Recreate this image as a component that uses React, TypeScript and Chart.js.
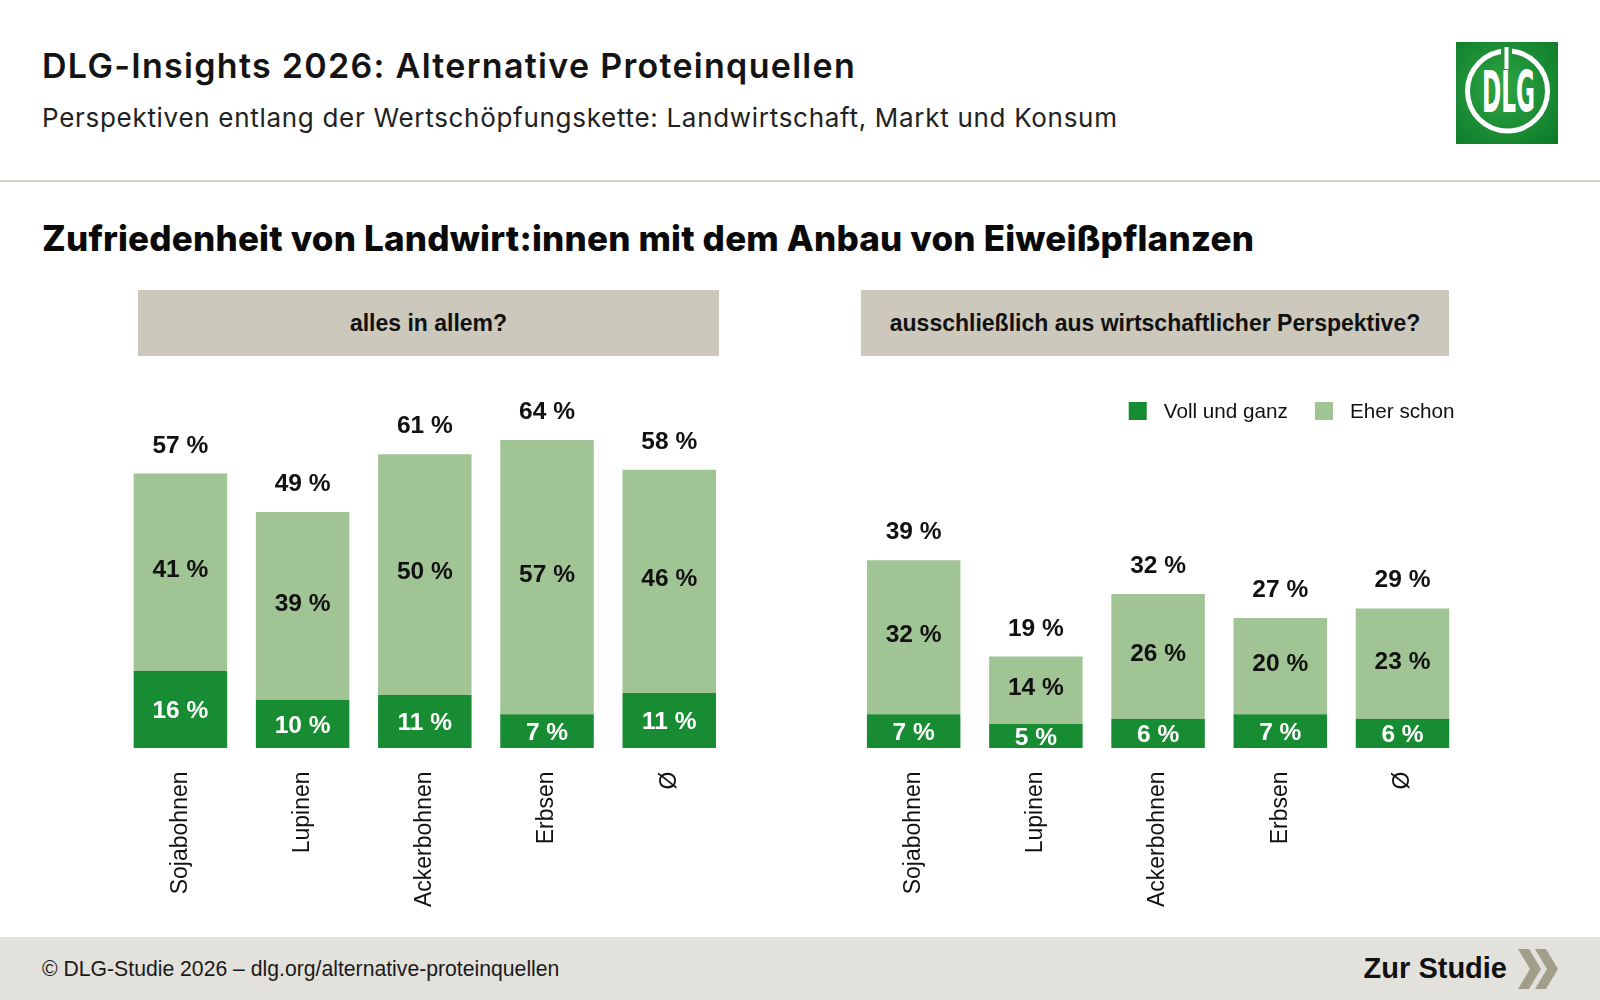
import React, { useEffect, useRef } from "react";
import { Chart, registerables } from "chart.js";

Chart.register(...registerables);

// ---------- data ----------
const crops = ["Sojabohnen", "Lupinen", "Ackerbohnen", "Erbsen", "Ø"];
const seriesNames = ["Voll und ganz", "Eher schon"];
const panelTitles = ["alles in allem?", "ausschließlich aus wirtschaftlicher Perspektive?"];
// panel 1: alles in allem
const allesVoll = [16, 10, 11, 7, 11.4];
const allesEher = [41, 39, 50, 57, 46.4];
// panel 2: wirtschaftliche Perspektive
const wirtVoll = [7, 5, 6, 7, 6];
const wirtEher = [32, 14, 26, 20, 23];

const DARK = "#188c32";
const LIGHT = "#a0c493";
const SANS = "'Liberation Sans', Arial, Helvetica, sans-serif";
const HEAD = "Inter, Lato, sans-serif";

const valuePlugin = {
  id: "valueLabels",
  afterDatasetsDraw(chart: any) {
    const ctx = chart.ctx;
    ctx.save();
    ctx.font = `bold 24.5px ${SANS}`;
    ctx.textAlign = "center";
    ctx.textBaseline = "alphabetic";
    chart.data.datasets.forEach((ds: any, di: number) => {
      const meta = chart.getDatasetMeta(di);
      meta.data.forEach((el: any, i: number) => {
        const v = ds.data[i];
        if (v == null) return;
        const { x, y, base } = el.getProps(["x", "y", "base"], true);
        ctx.fillStyle = di === 0 ? "#ffffff" : "#111111";
        const off = di === 0 ? 8.8 : 4.8;
        ctx.fillText(`${Math.round(v)} %`, x, (y + base) / 2 + off);
      });
    });
    const topMeta = chart.getDatasetMeta(chart.data.datasets.length - 1);
    chart.data.labels.forEach((_: any, i: number) => {
      let total = 0;
      let any = false;
      chart.data.datasets.forEach((ds: any) => {
        if (ds.data[i] != null) {
          total += ds.data[i];
          any = true;
        }
      });
      if (!any) return;
      const el = topMeta.data[i];
      ctx.fillStyle = "#111111";
      ctx.fillText(`${Math.round(total)} %`, el.x, el.y - 21);
    });
    ctx.restore();
  },
};

const legendPlugin = {
  id: "customLegend",
  afterDraw(chart: any) {
    const ctx = chart.ctx;
    ctx.save();
    ctx.font = `20.7px ${SANS}`;
    const box = 18;
    const gap = 17;
    const itemGap = 27;
    const items = chart.data.datasets.map((ds: any) => ({
      label: ds.label,
      color: ds.backgroundColor,
      w: box + gap + ctx.measureText(ds.label).width,
    }));
    const total = items.reduce((s: number, it: any) => s + it.w, 0) + itemGap * (items.length - 1);
    let x = chart.chartArea.right - 9 - total;
    const top = chart.chartArea.top - 9;
    ctx.textBaseline = "middle";
    ctx.textAlign = "left";
    items.forEach((it: any) => {
      ctx.fillStyle = it.color;
      ctx.fillRect(x, top, box, box);
      ctx.fillStyle = "#111111";
      ctx.fillText(it.label, x + box + gap, top + box / 2 + 1);
      x += it.w + itemGap;
    });
    ctx.restore();
  },
};

function Logo() {
  return (
    <svg width={102} height={102} style={{ position: "absolute", left: 1456, top: 42 }}>
      <defs>
        <radialGradient id="lg" cx="45%" cy="45%" r="75%">
          <stop offset="0%" stopColor="#2ea543" />
          <stop offset="100%" stopColor="#0d7a2a" />
        </radialGradient>
      </defs>
      <rect x={0} y={0} width={102} height={102} fill="url(#lg)" />
      <circle cx={51.5} cy={49} r={40} fill="none" stroke="#fff" strokeWidth={5} />
      <rect x={45} y={5} width={11} height={10} fill="#1f9638" />
      <rect x={48.5} y={5} width={4} height={22} fill="#fff" />
      <text
        x={26}
        y={70}
        fill="#fff"
        fontFamily="'Liberation Sans Narrow', 'DejaVu Sans Condensed', Arial, sans-serif"
        fontWeight="bold"
        fontSize={57}
        textLength={53}
        lengthAdjust="spacingAndGlyphs"
      >
        DLG
      </text>
    </svg>
  );
}

export default function App() {
  const ref = useRef<HTMLCanvasElement>(null);

  useEffect(() => {
    const labels = [...crops, "", ...crops];
    const voll = [...allesVoll, null, ...wirtVoll];
    const eher = [...allesEher, null, ...wirtEher];
    const chart = new Chart(ref.current as HTMLCanvasElement, {
      type: "bar",
      data: {
        labels,
        datasets: [
          { label: seriesNames[0], data: voll, backgroundColor: DARK, stack: "s" },
          { label: seriesNames[1], data: eher, backgroundColor: LIGHT, stack: "s" },
        ],
      },
      options: {
        responsive: false,
        animation: false,
        layout: { padding: { left: 119.3, right: 136.4, top: 411, bottom: 72 } },
        datasets: { bar: { categoryPercentage: 1, barPercentage: 0.765 } },
        plugins: { legend: { display: false }, tooltip: { enabled: false } },
        scales: {
          x: {
            stacked: true,
            grid: { display: false },
            border: { display: false },
            ticks: {
              minRotation: 90,
              maxRotation: 90,
              autoSkip: false,
              padding: 15.5,
              color: "#111111",
              font: { family: SANS, size: 23 },
            },
            afterFit: (s: any) => {
              s.height = 180;
            },
          },
          y: { stacked: true, display: false, min: 0, max: 70 },
        },
      } as any,
      plugins: [valuePlugin, legendPlugin],
    });
    return () => chart.destroy();
  }, []);

  const box = (left: number, width: number, text: string) => (
    <div
      style={{
        position: "absolute",
        left,
        top: 290,
        width,
        height: 66,
        background: "#ccc8bc",
        display: "flex",
        alignItems: "center",
        justifyContent: "center",
        fontFamily: SANS,
        fontWeight: "bold",
        fontSize: 23,
        color: "#111",
      }}
    >
      {text}
    </div>
  );

  return (
    <div
      style={{
        position: "absolute",
        left: 0,
        top: 0,
        width: 1600,
        height: 1000,
        background: "#fff",
        overflow: "hidden",
      }}
    >
      <div
        style={{
          position: "absolute",
          left: 42,
          top: 49,
          fontFamily: HEAD,
          fontWeight: 600,
          fontSize: 34,
          lineHeight: "34px",
          letterSpacing: "1.3px",
          color: "#141414",
          whiteSpace: "nowrap",
        }}
      >
        DLG-Insights 2026: Alternative Proteinquellen
      </div>
      <div
        style={{
          position: "absolute",
          left: 42,
          top: 104.5,
          fontFamily: HEAD,
          fontWeight: 400,
          fontSize: 26,
          lineHeight: "26px",
          letterSpacing: "0.7px",
          color: "#222",
          whiteSpace: "nowrap",
        }}
      >
        Perspektiven entlang der Wertschöpfungskette: Landwirtschaft, Markt und Konsum
      </div>
      <Logo />
      <div style={{ position: "absolute", left: 0, top: 180, width: 1600, height: 2, background: "#d3d0c5" }} />
      <div
        style={{
          position: "absolute",
          left: 42,
          top: 220.5,
          fontFamily: HEAD,
          fontWeight: 800,
          fontSize: 35,
          lineHeight: "35px",
          letterSpacing: "0.2px",
          color: "#0a0a0a",
          whiteSpace: "nowrap",
        }}
      >
        Zufriedenheit von Landwirt:innen mit dem Anbau von Eiweißpflanzen
      </div>
      {box(138, 581, panelTitles[0])}
      {box(861, 588, panelTitles[1])}
      <div
        style={{
          position: "absolute",
          left: 0,
          top: 937,
          width: 1600,
          height: 63,
          background: "#e3e1dc",
        }}
      >
        <div
          style={{
            position: "absolute",
            left: 42,
            top: 0,
            height: 63,
            display: "flex",
            alignItems: "center",
            fontFamily: SANS,
            fontSize: 21.2,
            color: "#1a1a1a",
            whiteSpace: "nowrap",
          }}
        >
          © DLG-Studie 2026 – dlg.org/alternative-proteinquellen
        </div>
        <div
          style={{
            position: "absolute",
            right: 1600 - 1507,
            top: 0,
            height: 63,
            display: "flex",
            alignItems: "center",
            fontFamily: SANS,
            fontWeight: "bold",
            fontSize: 29,
            color: "#111",
            whiteSpace: "nowrap",
          }}
        >
          Zur Studie
        </div>
        <svg width={50} height={63} style={{ position: "absolute", left: 1514, top: 0 }}>
          <polygon points="4,12 15,12 27,32 15,52 4,52 16,32" fill="#a39e8a" />
          <polygon points="21,12 32,12 44,32 32,52 21,52 33,32" fill="#a39e8a" />
        </svg>
      </div>
      <canvas
        ref={ref}
        width={1600}
        height={1000}
        style={{ position: "absolute", left: 0, top: 0, width: 1600, height: 1000, pointerEvents: "none" }}
      />
    </div>
  );
}
